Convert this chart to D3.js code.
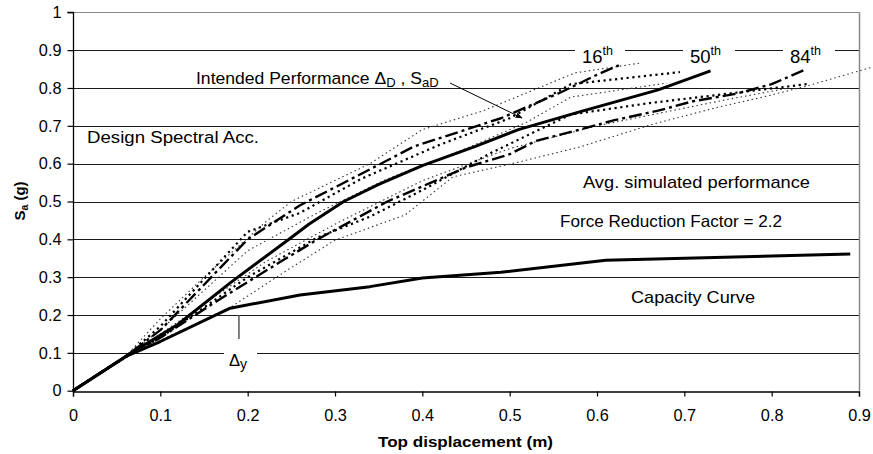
<!DOCTYPE html>
<html><head><meta charset="utf-8">
<script src="https://cdn.jsdelivr.net/npm/d3@7"></script>
<style>
html,body{margin:0;padding:0;background:#fff;}
svg text{font-family:"Liberation Sans",Arial,sans-serif;fill:#000;}
</style></head>
<body>
<svg id="chart" width="873" height="454"></svg>
<script>
// ---------- data ----------
const xTicks = [0,0.1,0.2,0.3,0.4,0.5,0.6,0.7,0.8,0.9];
const yTicks = [0,0.1,0.2,0.3,0.4,0.5,0.6,0.7,0.8,0.9,1];
const xTickLabels = ["0","0.1","0.2","0.3","0.4","0.5","0.6","0.7","0.8","0.9"];
const yTickLabels = ["0","0.1","0.2","0.3","0.4","0.5","0.6","0.7","0.8","0.9","1"];

const capacityCurve = [[0,0],[0.06,0.09],[0.1,0.13],[0.18,0.218],[0.26,0.253],[0.34,0.275],[0.4,0.298],[0.49,0.313],[0.61,0.345],[0.89,0.361]];
const median50 = [[0,0],[0.06,0.09],[0.12,0.175],[0.18,0.285],[0.25,0.405],[0.27,0.44],[0.31,0.5],[0.35,0.545],[0.4,0.595],[0.46,0.645],[0.51,0.69],[0.58,0.737],[0.67,0.795],[0.73,0.845]];
const pct16 = [[0,0],[0.06,0.09],[0.1,0.16],[0.15,0.28],[0.2,0.4],[0.26,0.49],[0.34,0.585],[0.39,0.645],[0.49,0.72],[0.56,0.79],[0.6,0.835],[0.625,0.86]];
const pct84 = [[0,0],[0.06,0.09],[0.1,0.14],[0.16,0.23],[0.23,0.33],[0.28,0.4],[0.32,0.45],[0.36,0.5],[0.41,0.55],[0.45,0.59],[0.5,0.625],[0.53,0.66],[0.58,0.69],[0.62,0.715],[0.67,0.74],[0.71,0.765],[0.76,0.785],[0.8,0.81],[0.84,0.85]];
const sim1 = [[0,0],[0.06,0.09],[0.1,0.19],[0.15,0.3],[0.22,0.445],[0.25,0.5],[0.34,0.6],[0.4,0.69],[0.47,0.74],[0.575,0.84],[0.65,0.866]];
const sim2 = [[0,0],[0.06,0.09],[0.1,0.17],[0.2,0.42],[0.26,0.47],[0.33,0.56],[0.42,0.65],[0.5,0.72],[0.57,0.81],[0.695,0.842]];
const sim3 = [[0,0],[0.06,0.09],[0.1,0.16],[0.2,0.37],[0.28,0.47],[0.36,0.56],[0.45,0.64],[0.52,0.71],[0.57,0.776],[0.68,0.813]];
const sim4 = [[0,0],[0.06,0.09],[0.1,0.15],[0.22,0.34],[0.3,0.44],[0.4,0.555],[0.5,0.64],[0.6,0.7],[0.75,0.77],[0.82,0.8]];
const sim5 = [[0,0],[0.06,0.09],[0.1,0.14],[0.2,0.3],[0.28,0.405],[0.34,0.46],[0.4,0.53],[0.48,0.63],[0.57,0.73],[0.66,0.76],[0.84,0.81]];
const sim6 = [[0,0],[0.07,0.1],[0.18,0.22],[0.245,0.318],[0.3,0.398],[0.38,0.464],[0.435,0.565],[0.51,0.604],[0.58,0.644],[0.665,0.705],[0.74,0.75],[0.79,0.776],[0.84,0.805],[0.915,0.855]];

// ---------- layout ----------
const svg = d3.select("#chart");
const x = d3.scaleLinear().domain([0,0.9]).range([73,859]);
const y = d3.scaleLinear().domain([0,1]).range([390.7,12.3]);

// gridlines
svg.append("g").selectAll("line").data(yTicks.filter(v=>v>0 && v<1)).join("line")
  .attr("x1",x(0)).attr("x2",x(0.9))
  .attr("y1",d=>Math.round(y(d))+0.5).attr("y2",d=>Math.round(y(d))+0.5)
  .attr("stroke","#1a1a1a").attr("stroke-width",1);
svg.append("line").attr("x1",x(0)).attr("x2",x(0.9)+0.5).attr("y1",Math.round(y(1))+0.5).attr("y2",Math.round(y(1))+0.5).attr("stroke","#888").attr("stroke-width",1.2);
svg.append("line").attr("x1",Math.round(x(0.9))+0.5).attr("x2",Math.round(x(0.9))+0.5).attr("y1",y(1)).attr("y2",y(0)).attr("stroke","#888").attr("stroke-width",1.5);

// white label boxes on gridlines
const boxes = [[575,44,50,22],[683,44,52,22],[783,44,52,22],[224,346,33,24]];
svg.append("g").selectAll("rect").data(boxes).join("rect")
  .attr("x",d=>d[0]).attr("y",d=>d[1]).attr("width",d=>d[2]).attr("height",d=>d[3]).attr("fill","#fff");

// axes
const xAxis = d3.axisBottom(x).tickValues(xTicks).tickSize(5).tickPadding(13)
  .tickFormat((d,i)=>xTickLabels[i]);
const yAxis = d3.axisLeft(y).tickValues(yTicks).tickSize(6).tickPadding(6)
  .tickFormat((d,i)=>yTickLabels[i]);
const gx = svg.append("g").attr("transform",`translate(0,${Math.round(y(0))+0.5})`).call(xAxis);
const gy = svg.append("g").attr("transform",`translate(${Math.round(x(0))+0.5},0)`).call(yAxis);
[gx,gy].forEach(g=>{
  g.select(".domain").attr("stroke","#000").attr("stroke-width",1.3);
  g.selectAll(".tick line").attr("stroke","#000").attr("stroke-width",1.2);
  g.selectAll(".tick text").attr("font-size",16.3).attr("font-family","Liberation Sans, Arial, sans-serif").attr("fill","#000");
});
gy.select(".domain").attr("d",`M-6,${y(1)}H0V${y(0)}`);

// lines
const line = d3.line().x(d=>x(d[0])).y(d=>y(d[1]));
const thinDot = {w:1.1, dash:"1.5,3", color:"#333"};
const boldDot = {w:2.2, dash:"2.2,3.6", color:"#000"};
const styles = [
  [sim1, thinDot],[sim3, thinDot],[sim6, thinDot],[sim4, thinDot],
  [sim2, boldDot],[sim5, boldDot],
  [pct16, {w:2.4, dash:"13,4,3,4", color:"#000"}],
  [pct84, {w:2.4, dash:"13,4,3,4", color:"#000"}],
  [median50, {w:3, dash:null, color:"#000"}],
  [capacityCurve, {w:3, dash:null, color:"#000"}]
];
svg.append("g").selectAll("path").data(styles).join("path")
  .attr("d",d=>line(d[0])).attr("fill","none")
  .attr("stroke",d=>d[1].color).attr("stroke-width",d=>d[1].w)
  .attr("stroke-dasharray",d=>d[1].dash).attr("stroke-linejoin","round");

// tick for Δy
svg.append("line").attr("x1",x(0.19)).attr("x2",x(0.19)).attr("y1",315).attr("y2",339).attr("stroke","#555").attr("stroke-width",1.5);

// annotation arrow
svg.append("defs").append("marker").attr("id","ah").attr("viewBox","0 0 10 10").attr("refX",9).attr("refY",5)
  .attr("markerWidth",7).attr("markerHeight",7).attr("orient","auto")
  .append("path").attr("d","M0,1L10,5L0,9z").attr("fill","#000");
svg.append("line").attr("x1",450).attr("y1",83).attr("x2",522).attr("y2",118).attr("stroke","#000").attr("stroke-width",1).attr("marker-end","url(#ah)");

// texts
function txt(s,xp,yp,fs,opts={}){
  const t = svg.append("text").attr("x",xp).attr("y",yp).attr("font-size",fs).text(s);
  if(opts.len) t.attr("textLength",opts.len).attr("lengthAdjust","spacingAndGlyphs");
  if(opts.weight) t.attr("font-weight",opts.weight);
  return t;
}
txt("Design Spectral Acc.",87,143,16.8,{len:172});
txt("Avg. simulated performance",583,188,17,{len:227});
txt("Force Reduction Factor = 2.2",560,227,16.5,{len:222});
txt("Capacity Curve",631,303,17,{len:124});

// Intended performance label with subscripts
const ip = svg.append("text").attr("transform","translate(196,84) scale(1.045,1)").attr("font-size",16.8);
ip.append("tspan").text("Intended Performance ");
ip.append("tspan").text("Δ");
ip.append("tspan").attr("font-size",12.5).attr("dy",3).text("D");
ip.append("tspan").attr("dy",-3).text(" , S");
ip.append("tspan").attr("font-size",12.5).attr("dy",3).text("aD");

// Δy
const dy = svg.append("text").attr("x",229).attr("y",366).attr("font-size",16.5);
dy.append("tspan").text("Δ");
dy.append("tspan").attr("font-size",14).attr("dy",3).text("y");

// percentile labels
function pct(n,xp){
  const t = svg.append("text").attr("x",xp).attr("y",63).attr("font-size",18.5);
  t.append("tspan").text(n);
  t.append("tspan").attr("font-size",12.5).attr("dy",-8).text("th");
}
pct("16",582); pct("50",690); pct("84",790);

// axis titles
txt("Top displacement (m)",378,447,15,{weight:"bold",len:175});
const yt = svg.append("text").attr("transform","translate(25,201) rotate(-90)").attr("text-anchor","middle")
  .attr("font-size",15).attr("font-weight","bold");
yt.append("tspan").text("S");
yt.append("tspan").attr("font-size",10.5).attr("dy",3).text("a");
yt.append("tspan").attr("dy",-3).text(" (g)");
</script>
</body></html>
